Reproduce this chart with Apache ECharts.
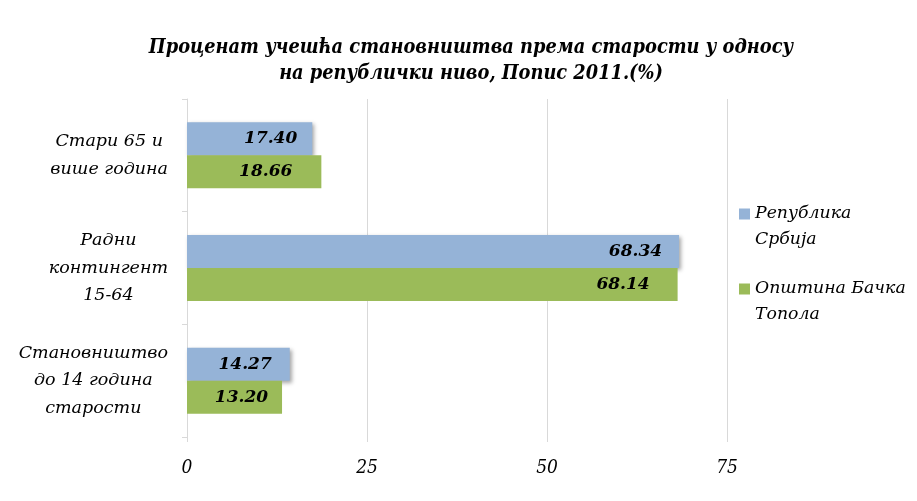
<!DOCTYPE html>
<html>
<head>
<meta charset="utf-8">
<script src="https://cdn.jsdelivr.net/npm/echarts@6/dist/echarts.min.js"></script>
<style>
  html, body { margin: 0; padding: 0; background: #fff; }
  #container { width: 917px; height: 501px; }
</style>
</head>
<body>
<div id="container"></div>
<script>
// categories top to bottom
var categories = ['Стари 65 и\nвише година', 'Радни\nконтингент\n15-64', 'Становништво\nдо 14 година\nстарости'];
var seriesNames = ['Република\nСрбија', 'Општина Бачка\nТопола'];
var serbiaValues = [17.40, 68.34, 14.27];
var topolaValues = [18.66, 68.14, 13.20];
var axisMin = 0, axisMax = 75, axisStep = 25;

// label gap from bar end, per bar (as placed in the original)
var serbiaLabelGap = [15, 17, 18];
var topolaLabelGap = [29, 28, 14];

var dom = document.getElementById('container');
var myChart = echarts.init(dom);

var labelFont = 'DejaVu Serif';

function valueLabel() {
    return {
        show: true,
        position: 'insideRight',
        distance: 16,
        color: '#000',
        fontFamily: labelFont,
        fontStyle: 'italic',
        fontWeight: 'bold',
        fontSize: 17,
        formatter: function (p) { return p.value.toFixed(2); }
    };
}

function withGaps(values, gaps) {
    return values.map(function (v, i) {
        return { value: v, label: { distance: gaps[i] } };
    });
}

var option = {
    backgroundColor: '#fff',
    animation: false,
    title: {
        text: 'Проценат учешћа становништва према старости у односу\nна републички ниво, Попис 2011.(%)',
        left: 466,
        top: 30,
        textAlign: 'center',
        textStyle: {
            fontFamily: 'DejaVu Serif Condensed',
            fontStyle: 'italic',
            fontWeight: 'bold',
            fontSize: 19.8,
            lineHeight: 26,
            color: '#000'
        }
    },
    legend: {
        orient: 'vertical',
        left: 739,
        top: 175,
        padding: 0,
        itemWidth: 11,
        itemHeight: 11,
        itemGap: -3,
        icon: 'rect',
        data: seriesNames,
        // blank first line so the marker lines up with the first text line
        formatter: function (name) { return ' \n' + name; },
        textStyle: {
            fontFamily: labelFont,
            fontStyle: 'italic',
            fontSize: 17.3,
            lineHeight: 26,
            color: '#000'
        }
    },
    grid: {
        left: 187,
        right: 190,
        top: 99,
        bottom: 64,
        containLabel: false
    },
    xAxis: {
        type: 'value',
        min: axisMin,
        max: axisMax,
        interval: axisStep,
        axisLine: { show: false },
        axisTick: { show: true, length: 5, lineStyle: { color: '#d9d9d9' } },
        splitLine: { show: true, lineStyle: { color: '#d9d9d9', width: 1 } },
        axisLabel: {
            margin: 22,
            color: '#000',
            fontFamily: 'DejaVu Serif Condensed',
            fontStyle: 'italic',
            fontSize: 19
        }
    },
    yAxis: {
        type: 'category',
        inverse: true,
        data: categories,
        axisLine: { show: true, lineStyle: { color: '#d9d9d9', width: 1 } },
        axisTick: { show: true, length: 5, lineStyle: { color: '#d9d9d9' } },
        axisLabel: {
            margin: 19,
            color: '#000',
            formatter: function (v) {
                return v.split('\n').map(function (s) { return '{c|' + s + '}'; }).join('\n');
            },
            rich: {
                c: {
                    align: 'center',
                    fontFamily: labelFont,
                    fontStyle: 'italic',
                    fontSize: 17.5,
                    lineHeight: 27.5,
                    color: '#000'
                }
            }
        }
    },
    series: [
        {
            name: seriesNames[0],
            type: 'bar',
            barWidth: 33,
            barGap: '0%',
            data: withGaps(serbiaValues, serbiaLabelGap),
            itemStyle: {
                color: '#95b3d7',
                shadowColor: 'rgba(0,0,0,0.35)',
                shadowBlur: 4,
                shadowOffsetX: 2,
                shadowOffsetY: 2
            },
            label: valueLabel()
        },
        {
            name: seriesNames[1],
            type: 'bar',
            barWidth: 33,
            barGap: '0%',
            data: withGaps(topolaValues, topolaLabelGap),
            itemStyle: { color: '#9bbb59' },
            label: valueLabel()
        }
    ]
};

myChart.setOption(option, true);
</script>
</body>
</html>
